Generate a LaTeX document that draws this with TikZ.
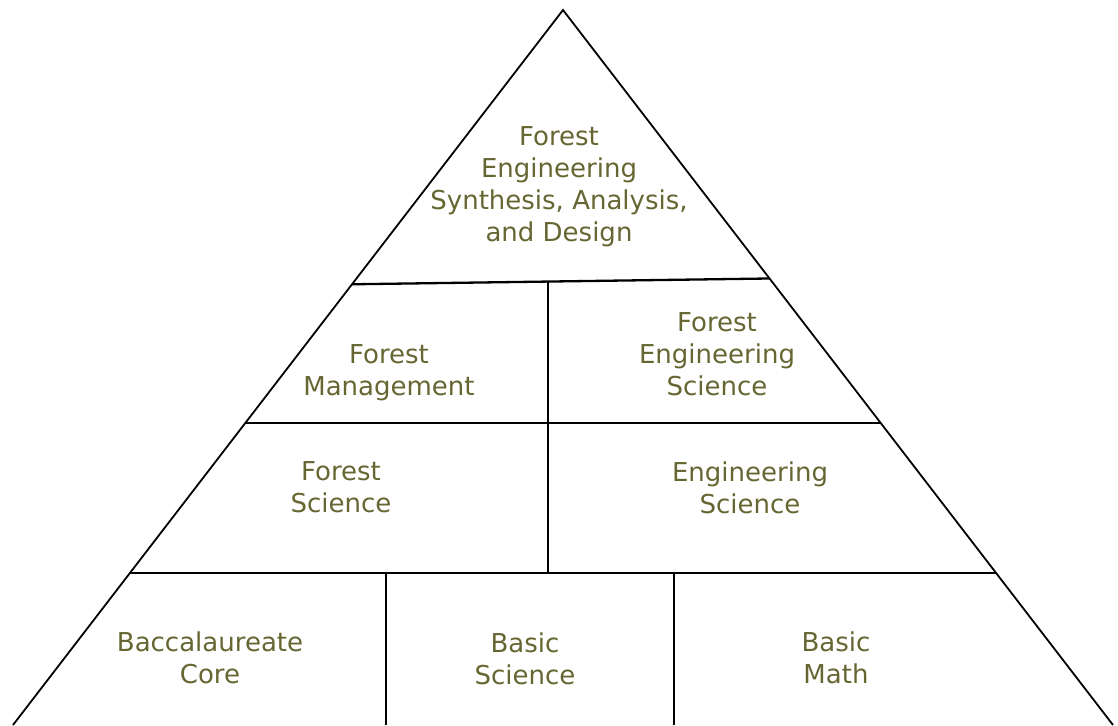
\documentclass[tikz,border=0pt]{standalone}
\usepackage{fontspec}
\setmainfont{DejaVu Sans}
\usetikzlibrary{calc}
\definecolor{olivetext}{RGB}{102,102,51}
\tikzset{
  layer/.style={font=\fontsize{26}{32}\selectfont, text=olivetext, align=center, inner sep=0pt},
  edge/.style={line width=1.8pt, line join=miter},
  divider/.style={line width=2.3pt}
}

\begin{document}
\begin{tikzpicture}[x=1pt, y=-1pt]
			%%%%% START %%%%%
			\useasboundingbox (0, 0) rectangle (1118, 725);
			
			\coordinate (apex) at (563, 10);
			\coordinate (bl) at (13, 725);
			\coordinate (br) at (1113, 725);
			\draw[edge] (bl) -- (apex) -- (br);
			
			\coordinate (tl) at ($(apex)!0.3836!(bl)$);
			\coordinate (tr) at ($(apex)!0.3755!(br)$);
			\coordinate (ml) at ($(apex)!0.5776!(bl)$);
			\coordinate (mr) at ($(apex)!0.5776!(br)$);
			\coordinate (ll) at ($(apex)!0.787!(bl)$);
			\coordinate (lr) at ($(apex)!0.787!(br)$);
			\draw[divider] (tl) -- (tr);
			\draw[divider] (ml) -- (mr);
			\draw[divider] (ll) -- (lr);
			
			\coordinate (midtop) at (548, 281.6);
			\coordinate (midbot) at (548, 572.7);
			\coordinate (lefttop) at (386, 572.7);
			\coordinate (leftbot) at (386, 725);
			\coordinate (righttop) at (674, 572.7);
			\coordinate (rightbot) at (674, 725);
			\draw[divider] (midtop) -- (midbot);
			\draw[divider] (lefttop) -- (leftbot);
			\draw[divider] (righttop) -- (rightbot);
			
			\node[layer] (synth) at (559, 186.8) {Forest\\Engineering\\Synthesis, Analysis,\\and Design};
			
			\node[layer] (mgmt) at (389, 372.4) {Forest\\Management};
			\node[layer] (fesci) at (717, 354) {Forest\\Engineering\\Science};
			
			\node[layer] (fsci) at (341, 487.2) {Forest\\Science};
			\node[layer] (esci) at (750, 487.3) {Engineering\\Science};
			
			\node[layer] (core) at (210, 658) {Baccalaureate\\Core};
			\node[layer] (bsci) at (525, 658.3) {Basic\\Science};
			\node[layer] (bmath) at (836, 657.5) {Basic\\Math};
			%%%%% END %%%%%
\end{tikzpicture}
\end{document}
